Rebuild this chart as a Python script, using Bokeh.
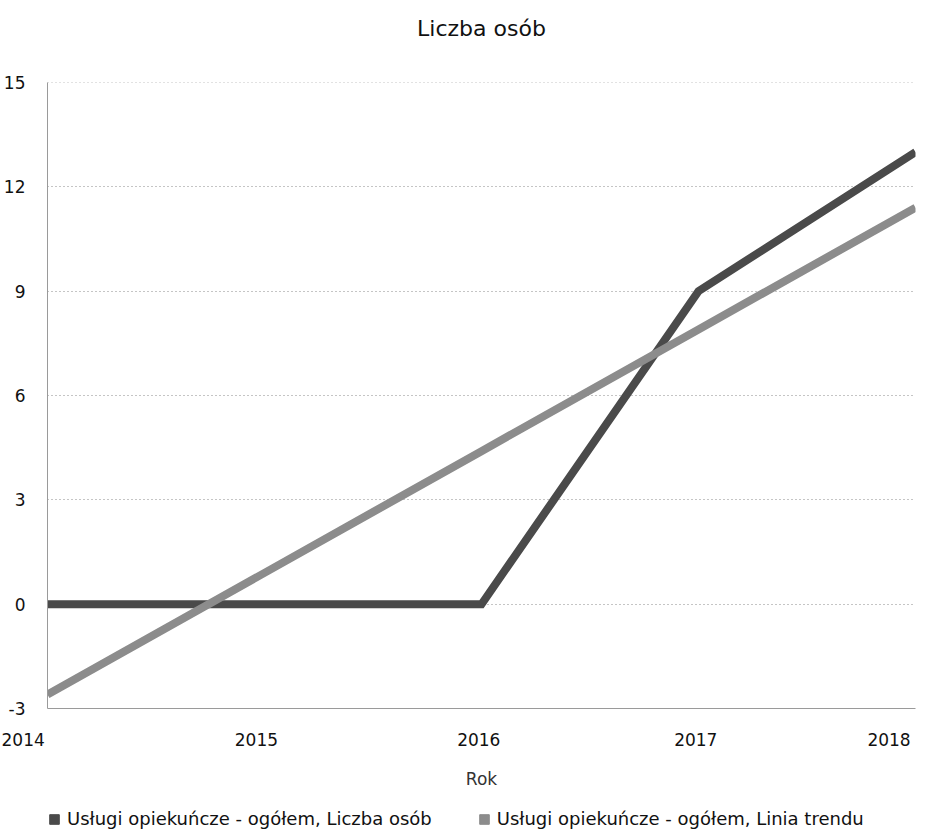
from bokeh.plotting import figure
from bokeh.layouts import column
from bokeh.models import Range1d, FixedTicker, Legend, LegendItem, Span, Title
from bokeh.embed import file_html
from bokeh.resources import INLINE

years = [2014, 2015, 2016, 2017, 2018]
liczba_osob = [0, 0, 0, 9, 13]
linia_trendu = [-2.6, 0.9, 4.4, 7.9, 11.4]
y_ticks = [-3, 0, 3, 6, 9, 12, 15]
x_labels = ["2014", "2015", "2016", "2017", "2018"]
series_names = ["Usługi opiekuńcze - ogółem, Liczba osób",
                "Usługi opiekuńcze - ogółem, Linia trendu"]
colors = ["#4a4a4a", "#8c8c8c"]

FONT = "DejaVu Sans"
NB = "\u00a0"

p = figure(width=921, height=791, output_backend="svg", toolbar_location=None,
           x_range=Range1d(2014, 2018), y_range=Range1d(-3, 15),
           min_border_left=39, min_border_right=6, min_border_top=82, min_border_bottom=79)
p.outline_line_color = None
p.background_fill_color = "white"

# spacer between the frame and the title
p.add_layout(Title(text=" ", text_font_size="1px", standoff=37), "above")

p.title.text = "Liczba osób"
p.title.align = "center"
p.title.text_font = FONT
p.title.text_font_size = "22px"
p.title.text_font_style = "normal"
p.title.text_color = "#111111"
p.title.standoff = 4

pad = [9, 3, 1, 1, 2]
p.xaxis.ticker = FixedTicker(ticks=years)
p.xaxis.major_label_overrides = {y: lab + NB * n for y, lab, n in zip(years, x_labels, pad)}
p.yaxis.ticker = FixedTicker(ticks=y_ticks)
p.yaxis.major_label_overrides = {t: str(t) for t in y_ticks}
p.xaxis.axis_label = "Rok"
for ax in (p.xaxis, p.yaxis):
    ax.major_label_text_font = FONT
    ax.major_label_text_font_size = "17px"
    ax.major_label_text_color = "#111111"
    ax.major_tick_line_color = None
    ax.minor_tick_line_color = None
    ax.axis_line_color = "#9a9a9a"
    ax.axis_line_width = 1
p.xaxis.axis_label_text_font = FONT
p.xaxis.axis_label_text_font_size = "17px"
p.xaxis.axis_label_text_font_style = "normal"
p.xaxis.axis_label_text_color = "#333333"
p.xaxis.major_label_standoff = 15
p.xaxis.axis_label_standoff = 16
p.yaxis.major_label_standoff = 16

p.xgrid.grid_line_color = None
p.ygrid.grid_line_color = "#8a8a8a"
p.ygrid.grid_line_dash = "1 3"
p.ygrid.grid_line_width = 1
p.add_layout(Span(location=y_ticks[-1], dimension="width", line_color="#8a8a8a",
                  line_dash="1 3", line_width=1))

p.line(years, liczba_osob, line_color=colors[0], line_width=8, line_join="miter")
p.line(years, linia_trendu, line_color=colors[1], line_width=8, line_join="miter")

# legend row as a separate small figure (swatches come from off-range dummy quads)
lf = figure(width=921, height=40, output_backend="svg", toolbar_location=None,
            x_range=Range1d(0, 1), y_range=Range1d(0, 1),
            x_axis_location=None, y_axis_location=None,
            min_border_left=0, min_border_right=0, min_border_top=0, min_border_bottom=0)
lf.outline_line_color = None
lf.xgrid.grid_line_color = None
lf.ygrid.grid_line_color = None

sw1 = lf.quad(left=[-3], right=[-2], bottom=[-3], top=[-2],
              fill_color=colors[0], line_color=colors[0])
sw2 = lf.quad(left=[-3], right=[-2], bottom=[-3], top=[-2],
              fill_color=colors[1], line_color=colors[1])

legend = Legend(items=[LegendItem(label=series_names[0], renderers=[sw1]),
                       LegendItem(label=series_names[1], renderers=[sw2])],
                orientation="horizontal", location=(1, 2),
                label_text_font=FONT, label_text_font_size="18px", label_text_color="#111111",
                glyph_width=12, glyph_height=12, spacing=46, padding=0, margin=0,
                label_standoff=7, border_line_color=None, background_fill_alpha=0)
lf.add_layout(legend, "center")

layout = column(p, lf, spacing=0)
open("out.html", "w").write(file_html(layout, INLINE))
